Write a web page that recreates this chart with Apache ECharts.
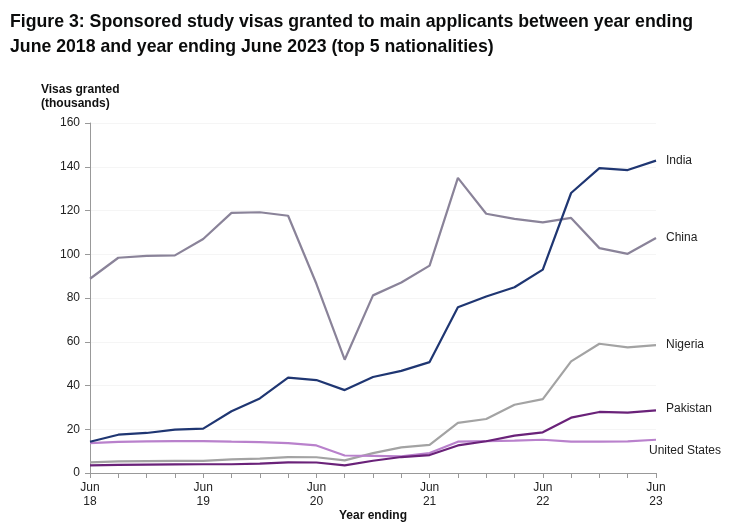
<!DOCTYPE html>
<html>
<head>
<meta charset="utf-8">
<script src="https://cdn.jsdelivr.net/npm/echarts@6/dist/echarts.min.js"></script>
<style>
html,body{margin:0;padding:0;background:#fff;}
#chart{width:733px;height:528px;}
</style>
</head>
<body>
<div id="chart"></div>
<script>
const categories = ["Jun\n18","Sep\n18","Dec\n18","Mar\n19","Jun\n19","Sep\n19","Dec\n19","Mar\n20","Jun\n20","Sep\n20","Dec\n20","Mar\n21","Jun\n21","Sep\n21","Dec\n21","Mar\n22","Jun\n22","Sep\n22","Dec\n22","Mar\n23","Jun\n23"];
const india    = [14.3,17.5,18.3,19.8,20.3,28.2,34.1,43.6,42.5,37.9,43.9,46.7,50.7,75.8,80.7,84.9,93.0,128.0,139.4,138.5,142.8];
const china    = [88.8,98.4,99.3,99.5,107.0,118.9,119.2,117.6,86.5,51.8,81.2,87.1,94.8,134.9,118.5,116.2,114.6,116.6,102.8,100.2,107.4];
const nigeria  = [4.9,5.3,5.4,5.5,5.5,6.2,6.6,7.3,7.2,5.8,9.1,11.7,12.9,22.9,24.7,31.2,33.8,51.0,59.1,57.4,58.5];
const pakistan = [3.5,3.7,3.8,3.9,4.0,4.0,4.3,4.9,4.8,3.5,5.6,7.3,8.2,12.6,14.5,17.1,18.6,25.3,27.9,27.6,28.6];
const usa      = [13.7,14.2,14.5,14.6,14.6,14.3,14.1,13.7,12.6,8.0,7.8,7.6,9.1,14.3,14.6,14.8,15.2,14.3,14.3,14.5,15.2];
const yTicks = [0,20,40,60,80,100,120,140,160];

const chart = echarts.init(document.getElementById('chart'));
function line(name, data, color, labelOffset) {
  return {
    name, type:'line', data, symbol:'none', smooth:false,
    lineStyle:{color, width:2.2},
    itemStyle:{color},
    endLabel:{show:true, formatter:name, color:'#222', fontSize:12, fontFamily:'Liberation Sans, Arial, sans-serif', distance:10, offset:labelOffset||[0,0]},
    emphasis:{disabled:true}
  };
}
chart.setOption({
  animation:false,
  title:{
    text:'Figure 3: Sponsored study visas granted to main applicants between year ending\nJune 2018 and year ending June 2023 (top 5 nationalities)',
    left:5, top:5,
    textStyle:{fontFamily:'Liberation Sans, Arial, sans-serif', fontSize:17.7, fontWeight:'bold', color:'#0b0c0c', lineHeight:25}
  },
  graphic:[
    {type:'text', left:41, top:83, style:{text:'Visas granted\n(thousands)', font:'bold 12px Liberation Sans, Arial, sans-serif', fill:'#111', lineHeight:14}},
    {type:'text', left:339, top:510, style:{text:'Year ending', font:'bold 12px Liberation Sans, Arial, sans-serif', fill:'#111'}}
  ],
  grid:{left:90, right:77, top:123, bottom:55},
  xAxis:{
    type:'category', data:categories, boundaryGap:false,
    axisLine:{lineStyle:{color:'#999', width:1}},
    axisTick:{show:true, interval:0, length:5, lineStyle:{color:'#999'}},
    axisLabel:{interval:3, color:'#222', fontSize:12, fontFamily:'Liberation Sans, Arial, sans-serif', lineHeight:14, margin:8}
  },
  yAxis:{
    type:'value', min:0, max:160, interval:20,
    axisLine:{show:true, lineStyle:{color:'#999'}},
    axisTick:{show:true, length:5, lineStyle:{color:'#999'}},
    axisLabel:{color:'#222', fontSize:12, fontFamily:'Liberation Sans, Arial, sans-serif', margin:10,
      formatter:v=>yTicks.includes(v)?String(v):''},
    splitLine:{show:true, lineStyle:{color:'#f5f5f5', width:1}}
  },
  series:[
    line('China', china, '#8a8399'),
    line('Nigeria', nigeria, '#a3a3a3'),
    line('United States', usa, '#b981cc', [-17,11]),
    line('Pakistan', pakistan, '#6a2279', [0,-2]),
    line('India', india, '#1f3672')
  ]
});
</script>
</body>
</html>
